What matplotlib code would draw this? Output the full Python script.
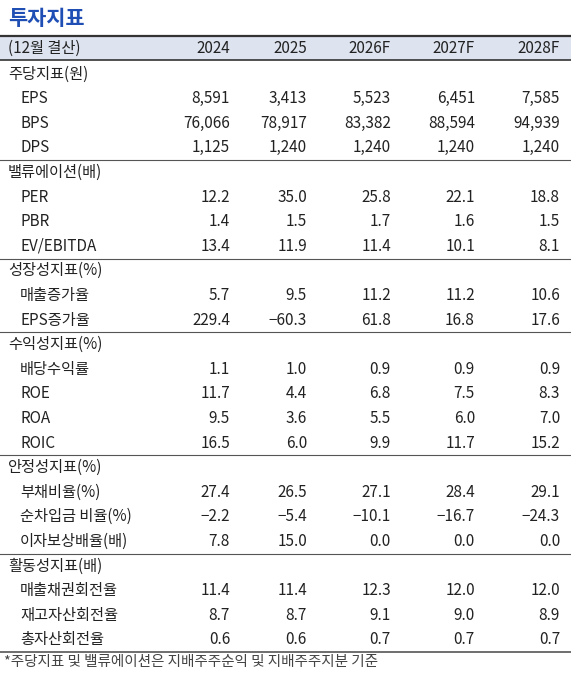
import matplotlib.pyplot as plt
from matplotlib.patches import Rectangle

plt.rcParams['font.family'] = ['Noto Sans CJK KR', 'DejaVu Sans']

years = ['2024', '2025', '2026F', '2027F', '2028F']
groups = [
    ('주당지표(원)', [
        ('EPS', ['8,591', '3,413', '5,523', '6,451', '7,585']),
        ('BPS', ['76,066', '78,917', '83,382', '88,594', '94,939']),
        ('DPS', ['1,125', '1,240', '1,240', '1,240', '1,240']),
    ]),
    ('밸류에이션(배)', [
        ('PER', ['12.2', '35.0', '25.8', '22.1', '18.8']),
        ('PBR', ['1.4', '1.5', '1.7', '1.6', '1.5']),
        ('EV/EBITDA', ['13.4', '11.9', '11.4', '10.1', '8.1']),
    ]),
    ('성장성지표(%)', [
        ('매출증가율', ['5.7', '9.5', '11.2', '11.2', '10.6']),
        ('EPS증가율', ['229.4', '−60.3', '61.8', '16.8', '17.6']),
    ]),
    ('수익성지표(%)', [
        ('배당수익률', ['1.1', '1.0', '0.9', '0.9', '0.9']),
        ('ROE', ['11.7', '4.4', '6.8', '7.5', '8.3']),
        ('ROA', ['9.5', '3.6', '5.5', '6.0', '7.0']),
        ('ROIC', ['16.5', '6.0', '9.9', '11.7', '15.2']),
    ]),
    ('안정성지표(%)', [
        ('부채비율(%)', ['27.4', '26.5', '27.1', '28.4', '29.1']),
        ('순차입금 비율(%)', ['−2.2', '−5.4', '−10.1', '−16.7', '−24.3']),
        ('이자보상배율(배)', ['7.8', '15.0', '0.0', '0.0', '0.0']),
    ]),
    ('활동성지표(배)', [
        ('매출채권회전율', ['11.4', '11.4', '12.3', '12.0', '12.0']),
        ('재고자산회전율', ['8.7', '8.7', '9.1', '9.0', '8.9']),
        ('총자산회전율', ['0.6', '0.6', '0.7', '0.7', '0.7']),
    ]),
]

W, H = 571, 685
fig = plt.figure(figsize=(W / 100, H / 100), dpi=100)
ax = fig.add_axes([0, 0, 1, 1])
ax.set_xlim(0, W)
ax.set_ylim(H, 0)
ax.axis('off')

col_x = [230, 307, 391, 475, 560]
txt = '#222222'
fs = 11

ax.text(8, 18, '투자지표', fontsize=15, fontweight='bold', color='#1f4fb5', va='center')

ax.add_patch(Rectangle((0, 36), W, 24, facecolor='#dde3ef', edgecolor='none'))
ax.plot([0, W], [36, 36], color='#333333', lw=1.6)
ax.plot([0, W], [60, 60], color='#333333', lw=1.2)
ax.text(8, 48, '(12월 결산)', fontsize=fs, color=txt, va='center')
for x, y in zip(col_x, years):
    ax.text(x, 48, y, fontsize=fs, color=txt, va='center', ha='right')

row_h = 24.6
y = 74
for gi, (gname, rows) in enumerate(groups):
    ax.text(8, y, gname, fontsize=fs, color=txt, va='center')
    y += row_h
    for label, vals in rows:
        ax.text(20, y, label, fontsize=fs, color=txt, va='center')
        for x, v in zip(col_x, vals):
            ax.text(x, y, v, fontsize=fs, color=txt, va='center', ha='right')
        y += row_h
    line_y = y - row_h / 2
    ax.plot([0, W], [line_y, line_y], color='#555555', lw=1.2 if gi == len(groups) - 1 else 0.8)

ax.text(4, y - 2, '*주당지표 및 밸류에이션은 지배주주순익 및 지배주주지분 기준',
        fontsize=10.5, color='#444444', va='center')

fig.savefig('out.png', dpi=100)
